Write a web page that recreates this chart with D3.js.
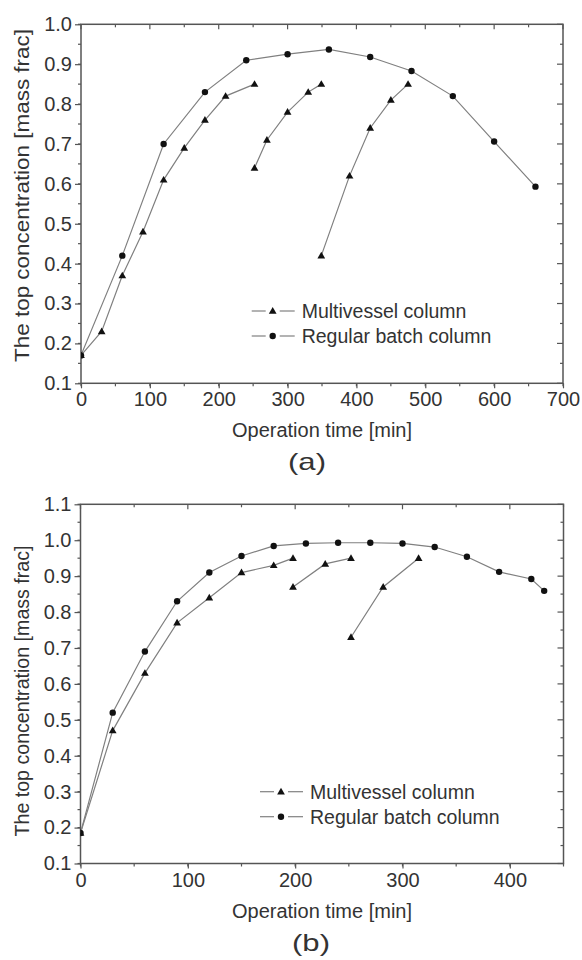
<!DOCTYPE html>
<html>
<head>
<meta charset="utf-8">
<script src="https://cdn.jsdelivr.net/npm/d3@7"></script>
<style>
  body { margin: 0; background: #fff; }
  svg text { font-family: "Liberation Sans", Arial, sans-serif; fill: #333; }
</style>
</head>
<body>
<div id="chart"></div>
<script>
// (a) values
var aBatchTime = [0, 60, 120, 180, 240, 300, 360, 420, 480, 540, 600, 660];
var aBatchConc = [0.17, 0.42, 0.70, 0.83, 0.91, 0.925, 0.937, 0.918, 0.883, 0.82, 0.706, 0.593];
var aMultiTime = [[0, 30, 60, 90, 120, 150, 180, 210, 252], [252, 270, 300, 330, 349], [349, 390, 420, 450, 475]];
var aMultiConc = [[0.17, 0.23, 0.37, 0.48, 0.61, 0.69, 0.76, 0.82, 0.85], [0.64, 0.71, 0.78, 0.83, 0.85], [0.42, 0.62, 0.74, 0.81, 0.85]];
var aXTicks = [0, 100, 200, 300, 400, 500, 600, 700];
var aYTicks = [0.1, 0.2, 0.3, 0.4, 0.5, 0.6, 0.7, 0.8, 0.9, 1.0];

// (b) values
var bBatchTime = [0, 30, 60, 90, 120, 150, 180, 210, 240, 270, 300, 330, 360, 390, 420, 432];
var bBatchConc = [0.185, 0.52, 0.69, 0.83, 0.91, 0.956, 0.984, 0.991, 0.993, 0.993, 0.991, 0.981, 0.954, 0.912, 0.892, 0.859];
var bMultiTime = [[0, 30, 60, 90, 120, 150, 180, 198], [198, 228, 252], [252, 282, 315]];
var bMultiConc = [[0.185, 0.47, 0.63, 0.77, 0.84, 0.91, 0.93, 0.95], [0.87, 0.934, 0.95], [0.73, 0.87, 0.95]];
var bXTicks = [0, 100, 200, 300, 400];
var bYTicks = [0.1, 0.2, 0.3, 0.4, 0.5, 0.6, 0.7, 0.8, 0.9, 1.0, 1.1];

var seriesNames = ["Multivessel column", "Regular batch column"];
var xTitle = "Operation time [min]";
var yTitle = "The top concentration [mass frac]";

var svg = d3.select("#chart").append("svg")
    .attr("width", 582)
    .attr("height", 960);

var lineColor = "#808080";
var axisColor = "#555";

function drawPanel(cfg){
    var x = d3.scaleLinear().domain(cfg.xDomain).range([cfg.left, cfg.right]);
    var y = d3.scaleLinear().domain(cfg.yDomain).range([cfg.bottom, cfg.top]);
    var g = svg.append("g");

    var clipId = "clip" + cfg.label;
    g.append("clipPath").attr("id", clipId)
        .append("rect")
        .attr("x", cfg.left).attr("y", cfg.top - 10)
        .attr("width", cfg.right - cfg.left + 10)
        .attr("height", cfg.bottom - cfg.top + 10);

    var minorX = d3.range(cfg.xDomain[0], cfg.xDomain[1] + 1, 50);
    var minorY = d3.range(0, Math.round((cfg.yDomain[1] - cfg.yDomain[0]) / 0.05) + 1)
        .map(function(i){ return cfg.yDomain[0] + i * 0.05; });

    // bottom + left axes, ticks outward
    var xAxis = d3.axisBottom(x).tickValues(cfg.xTicks).tickSize(5).tickSizeOuter(0).tickPadding(4)
        .tickFormat(d3.format("d"));
    var yAxis = d3.axisLeft(y).tickValues(cfg.yTicks).tickSize(6).tickSizeOuter(0).tickPadding(3)
        .tickFormat(d3.format(".1f"));

    var gx = g.append("g").attr("transform", "translate(0," + cfg.bottom + ")").call(xAxis);
    var gy = g.append("g").attr("transform", "translate(" + cfg.left + ",0)").call(yAxis);
    [gx, gy].forEach(function(a){
        a.select(".domain").remove();
        a.selectAll("line").attr("stroke", axisColor).attr("stroke-width", 1.2);
        a.selectAll("text").attr("font-size", 20).attr("fill", "#333")
            .style("font-family", "Liberation Sans, Arial, sans-serif");
    });

    // minor ticks
    g.selectAll(".mxb").data(minorX).enter().append("line")
        .attr("x1", function(d){ return x(d); }).attr("x2", function(d){ return x(d); })
        .attr("y1", cfg.bottom).attr("y2", cfg.bottom + 3)
        .attr("stroke", axisColor).attr("stroke-width", 1.2);
    g.selectAll(".myl").data(minorY).enter().append("line")
        .attr("x1", cfg.left - 3).attr("x2", cfg.left)
        .attr("y1", function(d){ return y(d); }).attr("y2", function(d){ return y(d); })
        .attr("stroke", axisColor).attr("stroke-width", 1.2);

    // top/right mirror ticks, pointing in
    g.selectAll(".mxt").data(minorX).enter().append("line")
        .attr("x1", function(d){ return x(d); }).attr("x2", function(d){ return x(d); })
        .attr("y1", cfg.top).attr("y2", function(d){ return cfg.top + (d % 100 === 0 ? 5 : 3); })
        .attr("stroke", axisColor).attr("stroke-width", 1.2);
    g.selectAll(".myr").data(minorY).enter().append("line")
        .attr("x1", function(d, i){ return cfg.right - (i % 2 === 0 ? 6 : 3); }).attr("x2", cfg.right)
        .attr("y1", function(d){ return y(d); }).attr("y2", function(d){ return y(d); })
        .attr("stroke", axisColor).attr("stroke-width", 1.2);

    // frame
    g.append("rect")
        .attr("x", cfg.left).attr("y", cfg.top)
        .attr("width", cfg.right - cfg.left).attr("height", cfg.bottom - cfg.top)
        .attr("fill", "none").attr("stroke", axisColor).attr("stroke-width", 1.5);

    var line = d3.line()
        .x(function(d){ return x(d[0]); })
        .y(function(d){ return y(d[1]); });

    var plot = g.append("g").attr("clip-path", "url(#" + clipId + ")");

    var batchPts = cfg.batchTime.map(function(t, i){ return [t, cfg.batchConc[i]]; });
    var multiSegs = cfg.multiTime.map(function(ts, s){
        return ts.map(function(t, i){ return [t, cfg.multiConc[s][i]]; });
    });

    plot.append("path").datum(batchPts)
        .attr("d", line).attr("fill", "none")
        .attr("stroke", lineColor).attr("stroke-width", 1.2);
    plot.selectAll(".seg").data(multiSegs).enter().append("path")
        .attr("d", line).attr("fill", "none")
        .attr("stroke", lineColor).attr("stroke-width", 1.2);

    var tri = d3.symbol().type(d3.symbolTriangle).size(26);

    plot.selectAll(".dot").data(batchPts).enter().append("circle")
        .attr("cx", function(d){ return x(d[0]); })
        .attr("cy", function(d){ return y(d[1]); })
        .attr("r", 3.2).attr("fill", "#111");
    plot.selectAll(".tri").data(d3.merge(multiSegs)).enter().append("path")
        .attr("d", tri)
        .attr("transform", function(d){ return "translate(" + x(d[0]) + "," + (y(d[1]) + 0.5) + ")"; })
        .attr("fill", "#111");

    // legend
    var lg = g.append("g");
    var rows = [0, 1];
    lg.selectAll(".ll").data(rows).enter().append("line")
        .attr("x1", cfg.legX - 21).attr("x2", cfg.legX - 7)
        .attr("y1", function(d){ return cfg.legY + d * 25; })
        .attr("y2", function(d){ return cfg.legY + d * 25; })
        .attr("stroke", lineColor).attr("stroke-width", 1.2);
    lg.selectAll(".lr").data(rows).enter().append("line")
        .attr("x1", cfg.legX + 7).attr("x2", cfg.legX + 22)
        .attr("y1", function(d){ return cfg.legY + d * 25; })
        .attr("y2", function(d){ return cfg.legY + d * 25; })
        .attr("stroke", lineColor).attr("stroke-width", 1.2);
    lg.append("path").attr("d", tri)
        .attr("transform", "translate(" + cfg.legX + "," + (cfg.legY + 0.5) + ")")
        .attr("fill", "#111");
    lg.append("circle").attr("cx", cfg.legX).attr("cy", cfg.legY + 25)
        .attr("r", 3.2).attr("fill", "#111");
    lg.selectAll("text").data(seriesNames).enter().append("text")
        .attr("x", cfg.legX + 29)
        .attr("y", function(d, i){ return cfg.legY + i * 25 + 7; })
        .attr("font-size", 19.5)
        .text(function(d){ return d; });

    // titles
    g.append("text")
        .attr("x", (cfg.left + cfg.right) / 2).attr("y", cfg.bottom + 54)
        .attr("text-anchor", "middle").attr("font-size", 20)
        .text(xTitle);
    g.append("text")
        .attr("transform", "translate(" + 29 + "," + cfg.yTitleMid + ") rotate(-90)")
        .attr("text-anchor", "middle").attr("font-size", 20)
        .attr("textLength", cfg.yTitleLen).attr("lengthAdjust", "spacingAndGlyphs")
        .text(yTitle);
    g.append("text")
        .attr("x", cfg.capX).attr("y", cfg.bottom + 87)
        .attr("text-anchor", "middle").attr("font-size", 24)
        .attr("textLength", 38).attr("lengthAdjust", "spacingAndGlyphs")
        .text("(" + cfg.label + ")");
}

function init(){
    drawPanel({
        label: "a",
        xDomain: [0, 700], yDomain: [0.1, 1.0],
        left: 81, right: 563, top: 24.3, bottom: 383.3,
        xTicks: aXTicks, yTicks: aYTicks,
        batchTime: aBatchTime, batchConc: aBatchConc,
        multiTime: aMultiTime, multiConc: aMultiConc,
        legX: 272.7, legY: 311,
        yTitleMid: 195.5, yTitleLen: 333,
        capX: 307
    });
    drawPanel({
        label: "b",
        xDomain: [0, 450], yDomain: [0.1, 1.1],
        left: 80.5, right: 563.5, top: 504.3, bottom: 863.5,
        xTicks: bXTicks, yTicks: bYTicks,
        batchTime: bBatchTime, batchConc: bBatchConc,
        multiTime: bMultiTime, multiConc: bMultiConc,
        legX: 281, legY: 791.7,
        yTitleMid: 691, yTitleLen: 291,
        capX: 311
    });
}
window.onload = init;
</script>
</body>
</html>
